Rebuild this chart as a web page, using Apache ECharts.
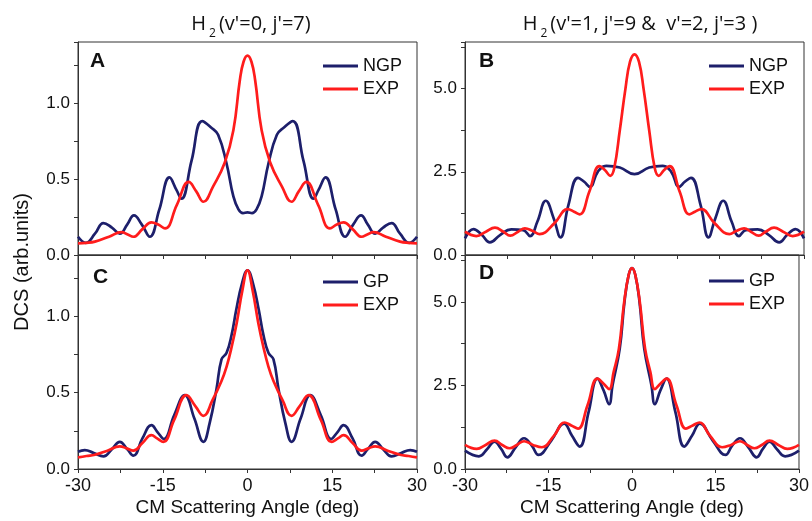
<!DOCTYPE html>
<html>
<head>
<meta charset="utf-8">
<script src="https://cdn.jsdelivr.net/npm/echarts@6/dist/echarts.min.js"></script>
<style>
  html, body { margin: 0; padding: 0; background: #fff; }
  #chart { width: 812px; height: 521px; }
</style>
</head>
<body>
<div id="chart"></div>
<script>
(function() {
    'use strict';

    // angle (deg), DCS (arb. units)
    var ngpA = [[-30,0.12],[-28.6,0.08],[-27,0.14],[-25.5,0.21],[-24,0.18],[-22.6,0.14],[-21.3,0.2],[-20.1,0.26],[-18.7,0.2],[-17.3,0.12],[-15.6,0.3],[-13.8,0.51],[-12.6,0.43],[-11.7,0.37],[-9.9,0.62],[-8,0.88],[-6.5,0.84],[-5.2,0.79],[-3.7,0.6],[-2.5,0.385],[-1.6,0.3],[-0.8,0.275],[0,0.28],
                [0.8,0.275],[1.6,0.3],[2.5,0.385],[3.7,0.6],[5.2,0.79],[6.5,0.84],[8,0.88],[9.9,0.62],[11.7,0.37],[12.6,0.43],[13.8,0.51],[15.6,0.3],[17.3,0.12],[18.7,0.2],[20.1,0.26],[21.3,0.2],[22.6,0.14],[24,0.18],[25.5,0.21],[27,0.14],[28.6,0.08],[30,0.12]];
    var expA = [[-30,0.077],[-28.5,0.08],[-27,0.088],[-24.5,0.12],[-22.3,0.15],[-21.2,0.135],[-20.2,0.12],[-18.6,0.17],[-17,0.215],[-15.8,0.2],[-14.6,0.175],[-12.5,0.33],[-10.4,0.48],[-9.1,0.42],[-7.8,0.35],[-6.1,0.45],[-4,0.61],[-2.5,0.82],[-1.35,1.15],[-0.7,1.27],[0,1.31],
                [0.7,1.27],[1.35,1.15],[2.5,0.82],[4,0.61],[6.1,0.45],[7.8,0.35],[9.1,0.42],[10.4,0.48],[12.5,0.33],[14.6,0.175],[15.8,0.2],[17,0.215],[18.6,0.17],[20.2,0.12],[21.2,0.135],[22.3,0.15],[24.5,0.12],[27,0.088],[28.5,0.08],[30,0.077]];

    var ngpB = [[-30,0.5],[-28.5,0.78],[-27,0.6],[-25.6,0.38],[-23.8,0.6],[-21.8,0.77],[-19.7,0.75],[-18.5,0.57],[-17.2,1.0],[-15.7,1.63],[-14.3,1.1],[-13.1,0.53],[-11.7,1.5],[-10,2.32],[-8.9,2.2],[-7.9,2.05],[-6.5,2.5],[-5,2.68],[-2.6,2.63],[0,2.43],
                [2.6,2.63],[5,2.68],[6.5,2.5],[7.9,2.05],[8.9,2.2],[10,2.32],[11.7,1.5],[13.1,0.53],[14.3,1.1],[15.7,1.63],[17.2,1.0],[18.5,0.57],[19.7,0.75],[21.8,0.77],[23.8,0.6],[25.6,0.38],[27,0.6],[28.5,0.78],[30,0.5]];
    var expB = [[-30,0.7],[-28,0.57],[-26.3,0.7],[-24.7,0.82],[-23.2,0.7],[-22,0.58],[-20.6,0.7],[-19.4,0.8],[-18,0.72],[-16.8,0.63],[-14.2,0.95],[-11.8,1.38],[-10.7,1.3],[-9.7,1.22],[-8,1.9],[-6.2,2.67],[-5.2,2.55],[-4.3,2.38],[-3.6,2.6],[-2.6,3.75],[-1.6,5.0],[-0.8,5.8],[0,6.03],
                [0.8,5.8],[1.6,5.0],[2.6,3.75],[3.6,2.6],[4.3,2.38],[5.2,2.55],[6.2,2.67],[8,1.9],[9.7,1.22],[10.7,1.3],[11.8,1.38],[14.2,0.95],[16.8,0.63],[18,0.72],[19.4,0.8],[20.6,0.7],[22,0.58],[23.2,0.7],[24.7,0.82],[26.3,0.7],[28,0.57],[30,0.7]];

    var gpC = [[-30,0.113],[-28.8,0.124],[-27.2,0.105],[-25.5,0.083],[-24,0.13],[-22.6,0.178],[-21.3,0.13],[-20.2,0.087],[-18.6,0.2],[-17,0.287],[-15.9,0.24],[-14.8,0.196],[-13,0.35],[-11.1,0.483],[-9.4,0.33],[-7.8,0.178],[-6.7,0.3],[-5.5,0.52],[-4.6,0.717],[-3.7,0.76],[-2.8,0.88],[-2,1.04],[-1,1.21],[0,1.30],
               [1,1.21],[2,1.04],[2.8,0.88],[3.7,0.76],[4.6,0.717],[5.5,0.52],[6.7,0.3],[7.8,0.178],[9.4,0.33],[11.1,0.483],[13,0.35],[14.8,0.196],[15.9,0.24],[17,0.287],[18.6,0.2],[20.2,0.087],[21.3,0.13],[22.6,0.178],[24,0.13],[25.5,0.083],[27.2,0.105],[28.8,0.124],[30,0.113]];
    var expC = [[-30,0.076],[-28.5,0.085],[-27,0.093],[-24.8,0.12],[-22.6,0.148],[-21.4,0.135],[-20.2,0.12],[-18.6,0.17],[-17,0.222],[-16,0.2],[-14.9,0.178],[-13,0.32],[-10.8,0.483],[-9.2,0.41],[-7.8,0.348],[-6.2,0.45],[-4.6,0.576],[-3.7,0.67],[-2.8,0.8],[-1.9,0.957],[-0.9,1.17],[0,1.30],
                [0.9,1.17],[1.9,0.957],[2.8,0.8],[3.7,0.67],[4.6,0.576],[6.2,0.45],[7.8,0.348],[9.2,0.41],[10.8,0.483],[13,0.32],[14.9,0.178],[16,0.2],[17,0.222],[18.6,0.17],[20.2,0.12],[21.4,0.135],[22.6,0.148],[24.8,0.12],[27,0.093],[28.5,0.085],[30,0.076]];

    var gpD = [[-30,0.55],[-27.5,0.38],[-26,0.6],[-24.7,0.82],[-23.5,0.6],[-22.4,0.35],[-20.9,0.65],[-19.4,0.92],[-18,0.7],[-16.8,0.42],[-14.5,0.85],[-12.2,1.36],[-10.8,1.0],[-9.4,0.67],[-7.8,1.7],[-6.2,2.70],[-5.1,2.35],[-4.1,1.94],[-3.5,2.5],[-2.2,3.6],[-1.35,5.0],[-0.6,5.8],[0,6.01],
               [0.6,5.8],[1.35,5.0],[2.2,3.6],[3.5,2.5],[4.1,1.94],[5.1,2.35],[6.2,2.70],[7.8,1.7],[9.4,0.67],[10.8,1.0],[12.2,1.36],[14.5,0.85],[16.8,0.42],[18,0.7],[19.4,0.92],[20.9,0.65],[22.4,0.35],[23.5,0.6],[24.7,0.82],[26,0.6],[27.5,0.38],[30,0.55]];
    var expD = [[-30,0.72],[-27.9,0.6],[-26.3,0.72],[-24.7,0.85],[-23.3,0.72],[-22,0.62],[-20.7,0.72],[-19.4,0.83],[-17.8,0.72],[-16.2,0.65],[-14,1.0],[-12.1,1.39],[-10.9,1.3],[-9.7,1.21],[-8,1.9],[-6.2,2.70],[-5.1,2.55],[-4.1,2.39],[-3.3,2.9],[-2.35,3.6],[-1.4,5.0],[-0.6,5.8],[0,6.01],
                [0.6,5.8],[1.4,5.0],[2.35,3.6],[3.3,2.9],[4.1,2.39],[5.1,2.55],[6.2,2.70],[8,1.9],[9.7,1.21],[10.9,1.3],[12.1,1.39],[14,1.0],[16.2,0.65],[17.8,0.72],[19.4,0.83],[20.7,0.72],[22,0.62],[23.3,0.72],[24.7,0.85],[26.3,0.72],[27.9,0.6],[30,0.72]];

    var panelLetters = ['A', 'B', 'C', 'D'];
    var legendNames = [['NGP', 'EXP'], ['NGP', 'EXP'], ['GP', 'EXP'], ['GP', 'EXP']];
    var panelData = [[ngpA, expA], [ngpB, expB], [gpC, expC], [gpD, expD]];
    var yMax = [1.4, 6.4, 1.4, 6.4];
    var yStep = [0.5, 2.5, 0.5, 2.5];
    var xTicks = [-30, 30, 15];
    var titleLeft = "(v'=0, j'=7)";
    var titleRight = "(v'=1, j'=9 &  v'=2, j'=3 )";
    var xName = 'CM Scattering Angle (deg)';
    var yName = 'DCS (arb.units)';

    var NAVY = '#1d1f6b';
    var RED = '#ff1c1c';
    var AXIS = '#333';
    var FONT = '"Liberation Sans", Arial, sans-serif';
    var TFONT = '"Open Sans", sans-serif';

    var grids = [
        { left: 78, top: 42, width: 339, height: 213 },
        { left: 465, top: 42, width: 339, height: 213 },
        { left: 78, top: 255, width: 339, height: 214 },
        { left: 465, top: 255, width: 339, height: 214 }
    ];
    var legendPos = [
        { left: 318, top: 52 },
        { left: 704, top: 52 },
        { left: 318, top: 268 },
        { left: 704, top: 267 }
    ];
    var letterPos = [[90, 61], [479, 61], [93, 277], [479, 273]];

    var xAxes = [], yAxes = [], series = [], legends = [], graphics = [];

    grids.forEach(function(g, i) {
        g.show = true;
        g.borderColor = AXIS;
        g.borderWidth = 1;
        var bottomRow = i >= 2;

        xAxes.push({
            type: 'value',
            gridIndex: i,
            min: xTicks[0],
            max: xTicks[1],
            interval: xTicks[2],
            name: bottomRow ? xName : '',
            nameLocation: 'middle',
            nameGap: 29,
            nameTextStyle: { fontFamily: FONT, fontSize: 19, color: '#111' },
            axisLine: { onZero: false, lineStyle: { color: AXIS, width: 1 } },
            axisTick: { show: true, inside: false, length: 4, lineStyle: { color: AXIS } },
            minorTick: { show: true, splitNumber: 2, length: 4, lineStyle: { color: AXIS } },
            splitLine: { show: false },
            axisLabel: {
                show: bottomRow,
                margin: 8,
                fontFamily: FONT,
                fontSize: 18,
                color: '#111'
            }
        });

        yAxes.push({
            type: 'value',
            gridIndex: i,
            min: 0,
            max: yMax[i],
            interval: yStep[i],
            axisLine: { show: true, onZero: false, lineStyle: { color: AXIS, width: 1 } },
            axisTick: { show: true, inside: false, length: 4, lineStyle: { color: AXIS } },
            minorTick: { show: true, splitNumber: 2, length: 4, lineStyle: { color: AXIS } },
            splitLine: { show: false },
            axisLabel: {
                showMaxLabel: false,
                margin: 8,
                fontFamily: FONT,
                fontSize: 17,
                color: '#111',
                formatter: function(v) { return v.toFixed(1); }
            }
        });

        var names = legendNames[i];
        [NAVY, RED].forEach(function(c, k) {
            series.push({
                type: 'line',
                name: names[k],
                xAxisIndex: i,
                yAxisIndex: i,
                data: panelData[i][k],
                smooth: 0.45,
                symbol: 'none',
                z: k === 0 ? 2 : 3,
                itemStyle: { color: c },
                lineStyle: { color: c, width: 2.7 }
            });
        });

        legends.push({
            orient: 'vertical',
            left: legendPos[i].left,
            top: legendPos[i].top,
            data: names,
            icon: 'rect',
            itemWidth: 35,
            itemHeight: 3,
            itemGap: 5,
            selectedMode: false,
            textStyle: { fontFamily: FONT, fontSize: 18, color: '#111' }
        });

        graphics.push({
            type: 'text',
            x: letterPos[i][0],
            y: letterPos[i][1],
            style: {
                text: panelLetters[i],
                font: 'bold 21px ' + FONT,
                fill: '#111',
                verticalAlign: 'middle'
            }
        });
    });

    var titleRich = {
        n: { fontFamily: TFONT, fontSize: 20, lineHeight: 26, fill: '#111' },
        s: { fontFamily: TFONT, fontSize: 12, lineHeight: 26, padding: [20, 3, 0, 3], fill: '#111' }
    };
    graphics.push({
        type: 'text', x: 251, y: 24,
        style: { text: '{n|H}{s|2}{n|' + titleLeft + '}', rich: titleRich, align: 'center', verticalAlign: 'middle' }
    });
    graphics.push({
        type: 'text', x: 640, y: 24,
        style: { text: '{n|H}{s|2}{n|' + titleRight + '}', rich: titleRich, align: 'center', verticalAlign: 'middle' }
    });
    graphics.push({
        type: 'text', x: 22, y: 262, rotation: Math.PI / 2,
        style: { text: yName, font: '20px ' + FONT, fill: '#111', align: 'center', verticalAlign: 'middle' }
    });

    var chart = echarts.init(document.getElementById('chart'));
    chart.setOption({
        animation: false,
        backgroundColor: '#fff',
        grid: grids,
        xAxis: xAxes,
        yAxis: yAxes,
        legend: legends,
        series: series,
        graphic: graphics
    });
})();
</script>
</body>
</html>
